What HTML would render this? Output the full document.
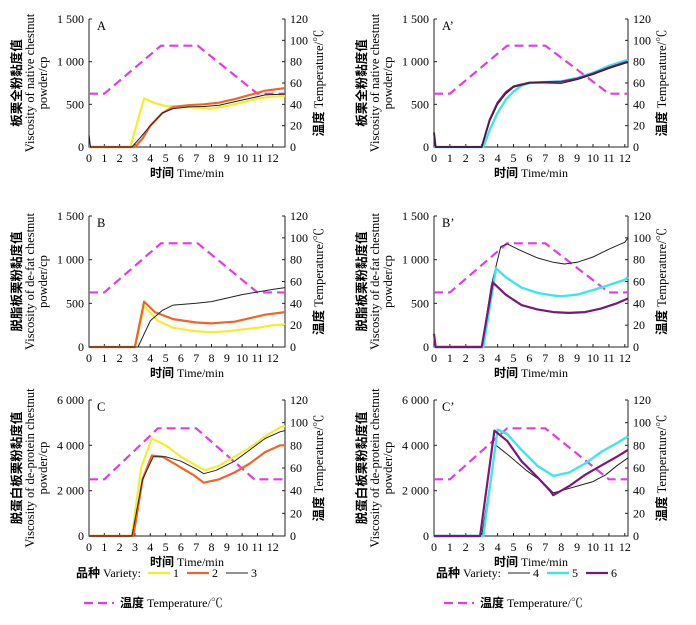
<!DOCTYPE html>
<html><head><meta charset="utf-8"><style>
body{margin:0;background:#fff;width:696px;height:620px;overflow:hidden}
svg{font-family:"Liberation Serif","Noto Serif CJK SC",serif;}
</style></head><body>
<svg id="fig" width="696" height="620" viewBox="0 0 696 620" xmlns="http://www.w3.org/2000/svg"></svg>
<script>
// ---- data ----
const xTicks=[0,1,2,3,4,5,6,7,8,9,10,11,12];
const tempTicks=[0,20,40,60,80,100,120];
const visTicksSmall=[0,500,1000,1500];
const visTickLabelsSmall=["0","500","1 000","1 500"];
const visTicksBig=[0,2000,4000,6000];
const visTickLabelsBig=["0","2 000","4 000","6 000"];
// temperature profiles
const tempLT=[0,1,4.7,7.1,11,12.8];
const tempLV=[50,50,95,95,50,50];
const tempRT=[0,1,4.6,7,11,12.2];
const tempRV=[50,50,95,95,50,50];
const tempCT=[0,1,4.5,7,10.8,12.8];
const tempCV=[50,50,95,95,50,50];
// A
const a1T=[0,2.7,3.6,4.2,5,6,7,8,9,10,11,12,12.8];
const a1V=[0,0,570,520,480,470,460,450,480,520,570,590,600];
const a2T=[0,3.0,3.5,4,4.8,5.5,6.5,7.5,8.5,9.5,10.5,11.5,12.8];
const a2V=[0,0,100,250,400,470,490,500,520,560,610,660,690];
const a3T=[0,0.1,2.8,3.3,4,4.8,5.5,6.5,7.5,8.5,9.5,10.5,11.5,12.8];
const a3V=[150,0,0,100,250,400,450,470,475,490,530,570,610,620];
// A'
const ap4T=[0,0.1,3,3.5,4,4.5,5,6,7,8,9,10,11,12,12.2];
const ap4V=[170,0,0,300,500,620,700,750,750,745,790,850,920,980,990];
const ap5T=[0,3.1,3.5,4,4.5,5,5.5,6,7,8,9,10,11,12,12.2];
const ap5V=[0,0,200,400,550,650,720,750,760,770,810,870,950,1010,1020];
const ap6T=[0,0.1,3,3.5,4,4.5,5,6,7,8,9,10,11,12,12.2];
const ap6V=[170,0,0,320,520,640,710,755,760,765,800,860,930,990,1000];
// B
const b1T=[0,3,3.6,4.5,5.5,7,8,9,10,11,12,12.8];
const b1V=[0,0,470,300,220,180,170,180,200,220,250,260];
const b2T=[0,3,3.6,4.3,5.5,7,8,9.5,10.5,11.5,12.8];
const b2V=[0,0,520,400,320,280,270,290,330,370,400];
const b3T=[0,3.2,4,4.8,5.5,7,8,9,10,11,12,12.8];
const b3V=[0,0,300,420,480,500,520,560,600,630,660,680];
// B'
const bp4T=[0,3,3.6,4.2,4.6,5.5,6.5,7.5,8.2,9,10,11,12,12.2];
const bp4V=[0,0,700,1150,1180,1100,1020,970,950,970,1030,1120,1200,1250];
const bp5T=[0,3.1,3.9,4.5,5.5,6.5,7.5,8,9,10,11,12,12.2];
const bp5V=[0,0,900,800,680,620,590,580,600,650,710,770,800];
const bp6T=[0,0.1,3,3.7,4.5,5.5,6.5,7.5,8.5,9.5,10.5,11.5,12.2];
const bp6V=[150,0,0,740,600,480,430,400,390,400,440,500,555];
// C
const c1T=[0,2.8,3.4,4.1,5,6,7,7.6,8.5,9.5,10.5,11.5,12.5,12.8];
const c1V=[0,0,3000,4300,4000,3500,3100,2900,3100,3500,3900,4400,4800,4850];
const c2T=[0,2.9,3.5,4.1,4.8,5.8,6.8,7.5,8.5,9.5,10.5,11.5,12.5,12.8];
const c2V=[0,0,2500,3550,3500,3100,2700,2350,2500,2800,3200,3700,4000,4000];
const c3T=[0,2.8,3.5,4.2,5,6,7,7.5,8.3,9.5,10.5,11.5,12.5,12.8];
const c3V=[0,0,2500,3500,3500,3300,2950,2750,2900,3300,3800,4300,4600,4650];
// C'
const cp4T=[0,3,3.9,4.8,5.8,6.8,7.5,8,9,10,10.8,11.5,12.2];
const cp4V=[0,0,4000,3500,2900,2400,1900,2000,2200,2400,2700,3100,3450];
const cp5T=[0,3.1,4.0,4.6,5.5,6.5,7.5,8.5,9.5,10.5,11.5,12.2];
const cp5V=[0,0,4700,4500,3800,3100,2650,2800,3200,3700,4100,4400];
const cp6T=[0,2.9,3.8,4.6,5.5,6.5,7.3,7.5,8.5,9.5,10.5,11.5,12.2];
const cp6V=[0,0,4650,4200,3300,2600,2000,1800,2200,2700,3100,3500,3800];

const COL={y:"#f2ee2a",o:"#ee6625",k:"#222",c:"#3fe4ee",p:"#7a1877",m:"#e03de0"};
const svg=document.getElementById('fig');
const NS="http://www.w3.org/2000/svg";
function mk(tag,attrs,parent){const e=document.createElementNS(NS,tag);for(const k in attrs)e.setAttribute(k,attrs[k]);(parent||svg).appendChild(e);return e;}

function panel(name,letter,x0,x1,xmax,top,bot,vmax,vTicks,vLabels,cn,en1,en2,tempT,tempV,series){
  const g=mk('g',{});
  
  
  const sx=t=>x0+(x1-x0)*t/xmax;
  const sy=v=>bot-(bot-top)*v/vmax;
  const st=v=>bot-(bot-top)*v/120;
  const ax=mk('path',{d:`M${x0},${top}V${bot}H${x1}V${top}`,fill:'none',stroke:'#222','stroke-width':1},g);
  
  
  vTicks.forEach((v,i)=>{
    mk('line',{x1:x0,x2:x0+3,y1:sy(v),y2:sy(v),stroke:'#222'},g);
    const t=mk('text',{x:x0-5,y:sy(v)+4,'text-anchor':'end','font-size':12},g);t.textContent=vLabels[i];
    
    
  });
  tempTicks.forEach(v=>{
    mk('line',{x1:x1,x2:x1-3,y1:st(v),y2:st(v),stroke:'#222'},g);
    const t=mk('text',{x:x1+5,y:st(v)+4,'font-size':12},g);t.textContent=v;
    
    
  });
  xTicks.forEach(v=>{
    mk('line',{x1:sx(v),x2:sx(v),y1:bot,y2:bot-3,stroke:'#222'},g);
    const t=mk('text',{x:sx(v),y:bot+15,'text-anchor':'middle','font-size':12},g);t.textContent=v;
    
    
  });
  const xt=mk('text',{x:(x0+x1)/2,y:bot+30,'text-anchor':'middle','font-size':12},g);
  xt.innerHTML='<tspan font-weight="bold" font-family="Noto Sans CJK SC,sans-serif">时间</tspan> Time/min';
  
  
  const cy=(top+bot)/2;
  const yt=mk('text',{transform:`translate(${x0-68},${cy}) rotate(-90)`,'text-anchor':'middle','font-size':12.5},g);
  yt.innerHTML=`<tspan x="0" dy="0" font-weight="bold" font-family="Noto Sans CJK SC,sans-serif">${cn}</tspan><tspan x="0" dy="13">${en1}</tspan><tspan x="0" dy="13">${en2}</tspan>`;
  
  
  const rt=mk('text',{transform:`translate(${x1+38},${cy}) rotate(-90)`,'text-anchor':'middle','font-size':12.5},g);
  rt.innerHTML='<tspan font-weight="bold" font-family="Noto Sans CJK SC,sans-serif">温度</tspan> Temperature/℃';
  
  
  const lt=mk('text',{x:x0+8,y:top+11,'font-size':12.5},g);lt.textContent=letter;
  
  
  const tp=mk('path',{d:tempT.map((t,i)=>(i?'L':'M')+sx(t)+','+st(tempV[i])).join(''),fill:'none',stroke:COL.m,'stroke-width':2.2,'stroke-dasharray':'9,5'},g);
  
  
  series.forEach(s=>{
    const p=mk('path',{d:s.t.map((t,i)=>(i?'L':'M')+sx(t).toFixed(1)+','+sy(s.v[i]).toFixed(1)).join(''),fill:'none',stroke:s.c,'stroke-width':s.w,'stroke-linejoin':'round'},g);
    
    
  });
}
const enA="Viscosity of native chestnut", enB="Viscosity of de-fat chestnut", enC="Viscosity of de-protein chestnut";
const L=[89,285,12.8], R=[434,628,12.2];
panel('panel-a','A',L[0],L[1],L[2],19,147,1500,visTicksSmall,visTickLabelsSmall,'板栗全粉黏度值',enA,'powder/cp',tempLT,tempLV,
 [{n:'variety-1',t:a1T,v:a1V,c:COL.y,w:2.2},{n:'variety-2',t:a2T,v:a2V,c:COL.o,w:2.2},{n:'variety-3',t:a3T,v:a3V,c:COL.k,w:1}]);
panel('panel-a-prime','A’',R[0],R[1],R[2],19,147,1500,visTicksSmall,visTickLabelsSmall,'板栗全粉黏度值',enA,'powder/cp',tempRT,tempRV,
 [{n:'variety-5',t:ap5T,v:ap5V,c:COL.c,w:2.4},{n:'variety-6',t:ap6T,v:ap6V,c:COL.p,w:2},{n:'variety-4',t:ap4T,v:ap4V,c:COL.k,w:1}]);
panel('panel-b','B',L[0],L[1],L[2],216,347,1500,visTicksSmall,visTickLabelsSmall,'脱脂板栗粉黏度值',enB,'powder/cp',tempLT,tempLV,
 [{n:'variety-1',t:b1T,v:b1V,c:COL.y,w:2.2},{n:'variety-2',t:b2T,v:b2V,c:COL.o,w:2.2},{n:'variety-3',t:b3T,v:b3V,c:COL.k,w:1}]);
panel('panel-b-prime','B’',R[0],R[1],R[2],216,347,1500,visTicksSmall,visTickLabelsSmall,'脱脂板栗粉黏度值',enB,'powder/cp',tempRT,tempRV,
 [{n:'variety-4',t:bp4T,v:bp4V,c:COL.k,w:1},{n:'variety-5',t:bp5T,v:bp5V,c:COL.c,w:2.4},{n:'variety-6',t:bp6T,v:bp6V,c:COL.p,w:2.2}]);
panel('panel-c','C',L[0],L[1],L[2],400,536,6000,visTicksBig,visTickLabelsBig,'脱蛋白板栗粉黏度值',enC,'powder/cp',tempCT,tempCV,
 [{n:'variety-1',t:c1T,v:c1V,c:COL.y,w:2.2},{n:'variety-2',t:c2T,v:c2V,c:COL.o,w:2.2},{n:'variety-3',t:c3T,v:c3V,c:COL.k,w:1}]);
panel('panel-c-prime','C’',R[0],R[1],R[2],400,536,6000,visTicksBig,visTickLabelsBig,'脱蛋白板栗粉黏度值',enC,'powder/cp',tempRT,tempRV,
 [{n:'variety-4',t:cp4T,v:cp4V,c:COL.k,w:1},{n:'variety-5',t:cp5T,v:cp5V,c:COL.c,w:2.4},{n:'variety-6',t:cp6T,v:cp6V,c:COL.p,w:2.2}]);

function legend(name,x,items){
  const g=mk('g',{});
  
  
  const t=mk('text',{x:x,y:577,'font-size':12},g);
  t.innerHTML='<tspan font-weight="bold" font-family="Noto Sans CJK SC,sans-serif">品种</tspan> Variety:';
  let cx=x+72;
  items.forEach(it=>{
    const ln=mk('line',{x1:cx,x2:cx+22,y1:573,y2:573,stroke:it.c,'stroke-width':it.w},g);
    
    
    const tx=mk('text',{x:cx+25,y:577,'font-size':12},g);tx.textContent=it.l;
    
    
    cx+=39;
  });
  const d=mk('line',{x1:x+8,x2:x+38,y1:603,y2:603,stroke:COL.m,'stroke-width':2.2,'stroke-dasharray':'9,5'},g);
  
  
  const tt=mk('text',{x:x+44,y:607,'font-size':12},g);
  tt.innerHTML='<tspan font-weight="bold" font-family="Noto Sans CJK SC,sans-serif">温度</tspan> Temperature/℃';
  
  
}
legend('legend-left',76,[{l:'1',c:COL.y,w:2.2},{l:'2',c:COL.o,w:2.2},{l:'3',c:COL.k,w:1}]);
legend('legend-right',436,[{l:'4',c:COL.k,w:1},{l:'5',c:COL.c,w:2.4},{l:'6',c:COL.p,w:2.2}]);
</script>
</body></html>
